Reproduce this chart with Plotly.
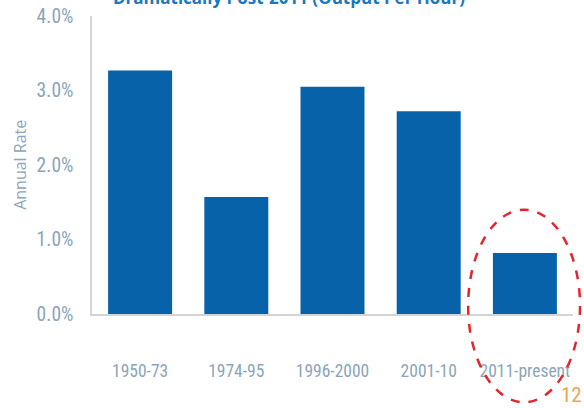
import plotly.graph_objects as go

# Productivity growth by period (annual rate, %)
periods = ["1950-73", "1974-95", "1996-2000", "2001-10", "2011-present"]
annual_rate = [3.27, 1.57, 3.05, 2.72, 0.82]
y_ticks = [0, 1, 2, 3, 4]
y_tick_labels = ["0.0%", "1.0%", "2.0%", "3.0%", "4.0%"]

BAR_BLUE = "#0762a9"
LABEL_GRAY = "#8ca5ba"
AXIS_GRAY = "#d4d4d4"
NARROW = "Liberation Sans Narrow, Roboto Condensed, DejaVu Sans Condensed, sans-serif"

fig = go.Figure(
    go.Bar(
        x=periods,
        y=annual_rate,
        marker=dict(color=BAR_BLUE, line=dict(width=0)),
        hoverinfo="skip",
    )
)

fig.update_layout(
    width=584,
    height=408,
    margin=dict(l=92, r=11, t=16, b=94),
    paper_bgcolor="white",
    plot_bgcolor="white",
    bargap=0.335,
    showlegend=False,
)

fig.update_xaxes(
    type="category",
    automargin=False,
    tickangle=0,
    showline=True,
    linecolor=AXIS_GRAY,
    linewidth=1.5,
    showgrid=False,
    ticks="outside",
    ticklen=40,
    tickcolor="rgba(0,0,0,0)",
    tickfont=dict(family=NARROW, size=17.5, color=LABEL_GRAY),
)

fig.update_yaxes(
    range=[0, 4],
    automargin=False,
    tickvals=y_ticks,
    ticktext=y_tick_labels,
    showline=True,
    linecolor=AXIS_GRAY,
    linewidth=1.5,
    showgrid=False,
    zeroline=False,
    ticks="outside",
    ticklen=13,
    tickcolor="rgba(0,0,0,0)",
    tickfont=dict(family=NARROW, size=19.5, color=LABEL_GRAY),
)

# Axis title
fig.add_annotation(
    text="Annual Rate",
    xref="paper", yref="paper",
    x=-0.15, y=0.5,
    xanchor="center", yanchor="middle",
    textangle=-90,
    showarrow=False,
    font=dict(family="Open Sans, sans-serif", size=16, color=LABEL_GRAY),
)

# Heading running off the top edge
fig.add_annotation(
    text="<b>Dramatically Post-2011 (Output Per Hour)</b>",
    xref="paper", yref="paper",
    x=0.41, y=1.0,
    xanchor="center", yanchor="bottom",
    yshift=5,
    showarrow=False,
    font=dict(family="Open Sans, sans-serif", size=17, color="#1b78be"),
)

# Dashed highlight around the latest period
fig.add_shape(
    type="circle",
    xref="paper", yref="paper",
    x0=0.782, x1=1.0146,
    y0=-0.296, y1=0.35,
    line=dict(color="#e3252c", width=2.5, dash="dash"),
)

# Page number
fig.add_annotation(
    text="12",
    xref="paper", yref="paper",
    x=1.0, y=-0.318,
    xanchor="right", yanchor="bottom",
    xshift=11,
    showarrow=False,
    font=dict(family=NARROW, size=21, color="#f0a354"),
)

fig.write_html("out.html")
